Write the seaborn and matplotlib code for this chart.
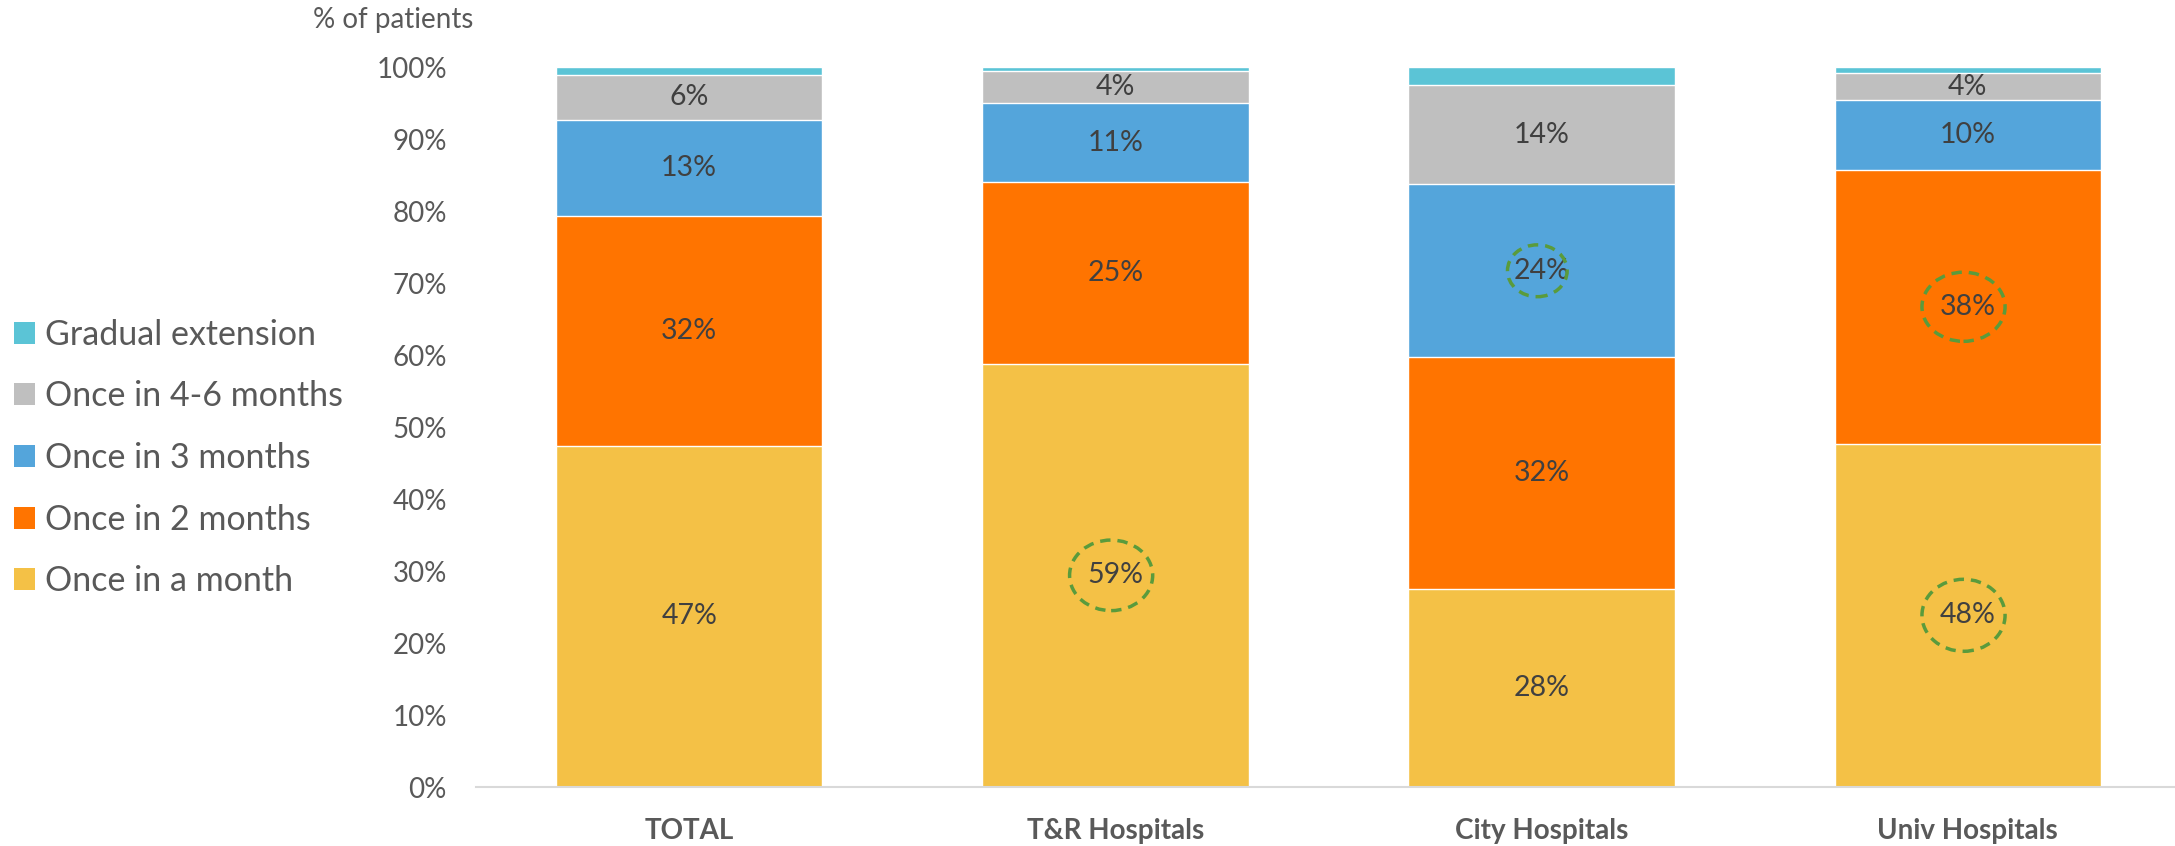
import numpy as np
import pandas as pd
import seaborn as sns
import matplotlib.pyplot as plt
from matplotlib.patches import Patch, Ellipse

# =========================
# DATA
# =========================
categories = ["TOTAL", "T&R Hospitals", "City Hospitals", "Univ Hospitals"]
series = ["Once in a month", "Once in 2 months", "Once in 3 months",
          "Once in 4-6 months", "Gradual extension"]

once_month = [47.4, 58.8, 27.5, 47.7]
once_2_months = [31.9, 25.2, 32.2, 38.0]
once_3_months = [13.4, 11.0, 24.0, 9.7]
once_4_6_months = [6.2, 4.5, 13.8, 3.7]
gradual = [1.1, 0.5, 2.5, 0.9]

# segments circled in the original (category, series index)
highlighted = [(1, 0), (2, 2), (3, 1), (3, 0)]

colors = ["#F4C146", "#FF7400", "#54A5DB", "#BFBFBF", "#5BC4D6"]
text_grey = "#595959"
label_grey = "#404040"

# =========================
# PLOT
# =========================
sns.set_style("white")
plt.rcParams["font.family"] = ["Lato", "DejaVu Sans"]

fig = plt.figure(figsize=(21.75, 8.46), dpi=100)
ax = fig.add_axes([0.2189, 0.0697, 0.7838, 0.8511])

values = np.array([once_month, once_2_months, once_3_months,
                   once_4_6_months, gradual])
cum = values.cumsum(axis=0)

# stacked bars: draw the tallest totals first, then overlay the lower ones
for i in range(len(series) - 1, -1, -1):
    sns.barplot(x=categories, y=cum[i], color=colors[i], saturation=1,
                width=0.625, errorbar=None, edgecolor="white",
                linewidth=1.0, ax=ax)

# value labels (no label for the thin top segment)
for i in range(len(series) - 1):
    for j in range(len(categories)):
        mid = cum[i][j] - values[i][j] / 2
        ax.text(j, mid, f"{values[i][j]:.0f}%", ha="center", va="center",
                fontsize=20.5, color=label_grey)

# dashed circles around the highlighted values
ell_size = {(1, 0): (0.195, 9.8), (2, 2): (0.14, 7.2),
            (3, 1): (0.195, 9.6), (3, 0): (0.195, 10.0)}
for j, i in highlighted:
    mid = cum[i][j] - values[i][j] / 2
    w, h = ell_size[(j, i)]
    ax.add_patch(Ellipse((j - 0.01, mid), w, h, fill=False,
                         edgecolor="#5A9B3C", linewidth=2.5,
                         linestyle=(0, (3, 2)), zorder=5))

ax.set_ylim(0, 100)
ax.set_xlim(-0.5, 3.5)
ax.set_yticks(range(0, 101, 10))
ax.set_yticklabels([f"{t}%" for t in range(0, 101, 10)])
ax.tick_params(axis="y", length=0, pad=21, labelsize=20, labelcolor=text_grey)
ax.tick_params(axis="x", length=0, pad=22, labelsize=20, labelcolor=text_grey)
for lab in ax.get_xticklabels():
    lab.set_fontweight("bold")
ax.set_xlabel("")
ax.set_ylabel("")

for side in ["left", "right", "top"]:
    ax.spines[side].set_visible(False)
ax.spines["bottom"].set_color("#D9D9D9")
ax.spines["bottom"].set_linewidth(1.5)

fig.text(0.144, 0.976, "% of patients", fontsize=20, color=text_grey,
         ha="left", va="center")

handles = [Patch(facecolor=colors[i], edgecolor="none")
           for i in range(len(series) - 1, -1, -1)]
fig.legend(handles, series[::-1], loc="center left",
           bbox_to_anchor=(0.0064, 0.4586), frameon=False, fontsize=24.5,
           handlelength=0.62, handleheight=0.62, handletextpad=0.3,
           labelspacing=0.87, borderpad=0, borderaxespad=0,
           labelcolor=text_grey)

plt.savefig("out.png", dpi=100)
